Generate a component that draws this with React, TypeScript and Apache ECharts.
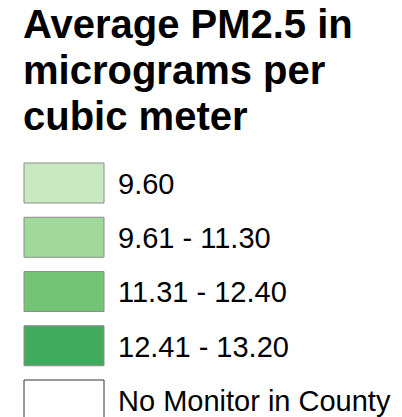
import React, { useEffect, useRef } from "react";
import * as echarts from "echarts";

const titleLines = ["Average PM2.5 in", "micrograms per", "cubic meter"];
const legendLabels = ["9.60", "9.61 - 11.30", "11.31 - 12.40", "12.41 - 13.20", "No Monitor in County"];
const legendColors = ["#c7e9c0", "#a1d99b", "#74c476", "#41ab5d", "#ffffff"];
const legendBorders = ["#8c8c8c", "#8c8c8c", "#8c8c8c", "#8c8c8c", "#333333"];

export default function App() {
  const ref = useRef<HTMLDivElement>(null);
  useEffect(() => {
    if (!ref.current) return;
    const chart = echarts.init(ref.current, undefined, { renderer: "svg" });
    const font = "'Liberation Sans', Arial, Helvetica, sans-serif";
    const boxX = 24;
    const boxW = 80;
    const boxH = 40;
    const top0 = 163;
    const pitch = 54.25;
    const elements: any[] = [];
    legendLabels.forEach((label, i) => {
      const y = top0 + i * pitch;
      elements.push({
        type: "rect",
        shape: { x: boxX, y: y, width: boxW, height: boxH },
        style: { fill: legendColors[i], stroke: legendBorders[i], lineWidth: 1 },
      });
      elements.push({
        type: "text",
        x: 118,
        y: y + 20.8,
        style: {
          text: label,
          fill: "#000000",
          fontFamily: font,
          fontSize: 29,
          verticalAlign: "middle",
          align: "left",
        },
      });
    });
    chart.setOption({
      animation: false,
      backgroundColor: "#ffffff",
      title: {
        text: titleLines.join("\n"),
        left: 23,
        top: 1,
        padding: 0,
        textStyle: {
          fontFamily: font,
          fontWeight: "bold",
          fontSize: 40,
          lineHeight: 46,
          color: "#000000",
        },
      },
      graphic: { elements },
    });
    return () => chart.dispose();
  }, []);
  return (
    <div
      ref={ref}
      style={{ position: "fixed", left: 0, top: 0, width: 402, height: 417 }}
    />
  );
}
